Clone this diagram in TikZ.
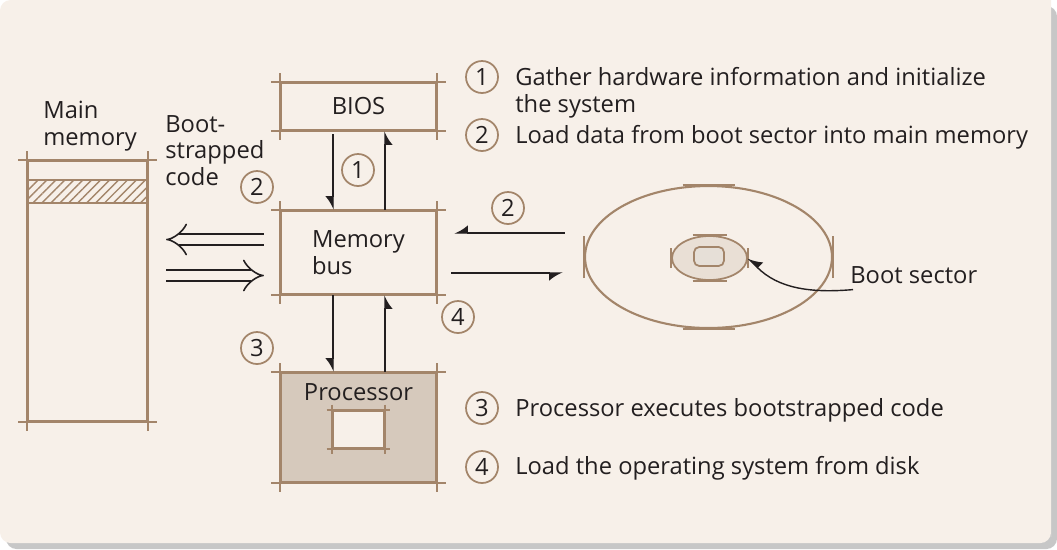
\documentclass[tikz,border=0pt]{standalone}
\usepackage{fontspec}
\setmainfont{Open Sans}
\usetikzlibrary{arrows.meta,patterns.meta,shapes.geometric}

\definecolor{paper}{HTML}{F7F0E9}
\definecolor{sketch}{HTML}{A3856A}
\definecolor{procfill}{HTML}{D6C9BC}
\definecolor{diskfill}{HTML}{E9DFD5}
\definecolor{ink}{HTML}{231F20}

% lines that run past the corners of a box
\newcommand{\overshoot}[2]{%
  \draw[sketch line] ([xshift=-#2]#1.north west) -- ([xshift=#2]#1.north east);
  \draw[sketch line] ([xshift=-#2]#1.south west) -- ([xshift=#2]#1.south east);
  \draw[sketch line] ([yshift=#2]#1.north west) -- ([yshift=-#2]#1.south west);
  \draw[sketch line] ([yshift=#2]#1.north east) -- ([yshift=-#2]#1.south east);}
% short tangent strokes on an ellipse
\newcommand{\ellticks}[3]{%
  \draw[sketch line] ([xshift=-#2]#1.north) -- ([xshift=#2]#1.north);
  \draw[sketch line] ([xshift=-#2]#1.south) -- ([xshift=#2]#1.south);
  \draw[sketch line] ([yshift=-#3]#1.west) -- ([yshift=#3]#1.west);
  \draw[sketch line] ([yshift=-#3]#1.east) -- ([yshift=#3]#1.east);}

\begin{document}
\begin{tikzpicture}[x=0.02cm,y=-0.02cm,font=\fontsize{13.5}{15}\selectfont,text=ink,
        sketch line/.style={draw=sketch,line width=1.2pt},
        box/.style={draw=sketch,line width=1.2pt,minimum width=3.1cm,inner sep=0pt},
        num/.style={circle,draw=sketch,line width=1pt,minimum size=0.64cm,inner sep=0pt},
        arr/.style={-{Latex[harpoon,swap,length=7pt,width=9pt]},draw=ink,line width=0.8pt},
        dbl/.style={draw=ink,double=paper,double distance=5.6pt,line width=0.9pt,-{Implies}},
        lbl/.style={anchor=base west,align=left,inner sep=0pt}]
        \useasboundingbox (0,0) rectangle (1057,549);
        \fill[black!22,rounded corners=6pt] (6,6) rectangle (1057,549);
        \fill[paper] (0,0) -- (1051,0) -- (1051,537) [rounded corners=6pt] -- (1051,543) -- (0,543) -- cycle;

        % nodes
        \node[box,minimum width=2.38cm,minimum height=5.2cm] (mem) at (87.5,291) {};
        \node[box,minimum width=2.38cm,minimum height=0.46cm,
              pattern={Lines[angle=45,distance=3.6pt,line width=0.8pt]},pattern color=sketch] (code) at (87.5,191.5) {};
        \node[box,minimum height=0.94cm] (bios) at (358.5,106.5) {BIOS};
        \node[box,minimum height=1.66cm,align=left] (bus) at (358.5,252.5) {Memory\\bus};
        \node[box,fill=procfill,minimum height=2.18cm] (proc) at (358.5,427.5) {};
        \node[box,fill=paper,minimum width=1.02cm,minimum height=0.74cm] (core) at (358.5,429.5) {};
        \node[anchor=base,inner sep=0pt] (proclbl) at (358.5,400) {Processor};
        \overshoot{mem}{5pt}
        \overshoot{bios}{5pt}
        \overshoot{bus}{5pt}
        \overshoot{proc}{5pt}
        \overshoot{core}{3pt}

        \node[ellipse,draw=sketch,line width=1.2pt,minimum width=4.94cm,minimum height=2.84cm,inner sep=0pt] (disk) at (708.5,257) {};
        \node[ellipse,draw=sketch,fill=diskfill,line width=1pt,minimum width=1.5cm,minimum height=0.88cm,inner sep=0pt] (sector) at (709.5,258) {};
        \node[draw=sketch,fill=procfill!60,line width=1pt,rounded corners=3pt,minimum width=0.6cm,minimum height=0.38cm,inner sep=0pt] (hole) at (709,256.5) {};
        \ellticks{disk}{0.52cm}{0.42cm}
        \ellticks{sector}{0.34cm}{0.2cm}

        \node[lbl] (memlbl) at (43,145) {Main\\memory};
        \node[lbl] (codelbl) at (165,185) {Boot-\\strapped\\code};
        \node[lbl] (seclbl) at (850,283) {Boot sector};

        \node[num] (n1) at (358,170) {1};
        \node[num] (n2a) at (257,187) {2};
        \node[num] (n2b) at (508,208) {2};
        \node[num] (n3) at (257,348) {3};
        \node[num] (n4) at (458,317) {4};

        % legend
        \node[num] (k1) at (482,77) {1};
        \node[num] (k2) at (482,135) {2};
        \node[num] (k3) at (482,408) {3};
        \node[num] (k4) at (482,467) {4};
        \node[lbl] (t1) at (515,112) {Gather hardware information and initialize\\the system};
        \node[lbl] (t2) at (515,143) {Load data from boot sector into main memory};
        \node[lbl] (t3) at (515,416) {Processor executes bootstrapped code};
        \node[lbl] (t4) at (515,474) {Load the operating system from disk};

        % arrows
        \draw[arr,shorten <=0.06cm] ([xshift=-0.51cm]bios.south) -- ([xshift=-0.51cm]bus.north);
        \draw[arr] ([xshift=0.53cm]bus.north) -- ([xshift=0.53cm]bios.south);
        \draw[arr] ([xshift=-0.51cm]bus.south) -- ([xshift=-0.51cm]proc.north);
        \draw[arr] ([xshift=0.53cm]proc.north) -- ([xshift=0.53cm]bus.south);
        \draw[arr,shorten <=0.38cm,shorten >=0.34cm] (disk.west |- 0,233) -- (bus.east |- 0,233);
        \draw[arr,shorten <=0.28cm,shorten >=0.42cm] (bus.east |- 0,273) -- (disk.west |- 0,273);
        \draw[dbl,shorten <=0.32cm,shorten >=0.36cm] (bus.west |- 0,239.5) -- (mem.east |- 0,239.5);
        \draw[dbl,shorten <=0.36cm,shorten >=0.32cm] (mem.east |- 0,275.5) -- (bus.west |- 0,275.5);
        \draw[arr] ([shift={(3,6)}]seclbl.south west) to[out=185,in=-45] (sector.east);
\end{tikzpicture}
\end{document}
